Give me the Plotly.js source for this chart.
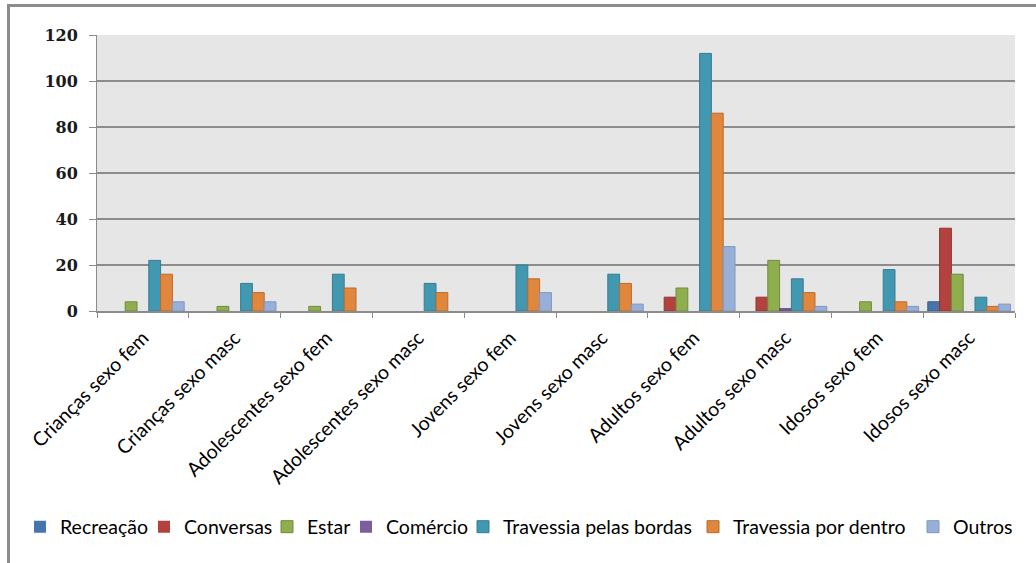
<!DOCTYPE html>
<html>
<head>
<meta charset="utf-8">
<script src="https://cdn.plot.ly/plotly-3.0.1.min.js"></script>
<style>
  html, body { margin: 0; padding: 0; background: #ffffff; }
  #wrap { position: relative; width: 1036px; height: 563px; overflow: hidden; }
  #chart { position: absolute; left: 0; top: 0; width: 1036px; height: 563px; }
  #frame { position: absolute; left: 7px; top: 4px; right: -10px; bottom: -10px;
           border-top: 3px solid #8c8c8c; border-left: 3px solid #8c8c8c; pointer-events: none; }
</style>
</head>
<body>
<div id="wrap">
  <div id="chart"></div>
  <div id="frame"></div>
</div>
<script>
const categories = ['Crianças sexo fem', 'Crianças sexo masc', 'Adolescentes sexo fem', 'Adolescentes sexo masc',
                    'Jovens sexo fem', 'Jovens sexo masc', 'Adultos sexo fem', 'Adultos sexo masc',
                    'Idosos sexo fem', 'Idosos sexo masc'];
const seriesNames = ['Recreação', 'Conversas', 'Estar', 'Comércio', 'Travessia pelas bordas', 'Travessia por dentro', 'Outros'];
const recreacao = [0, 0, 0, 0, 0, 0, 0, 0, 0, 4];
const conversas = [0, 0, 0, 0, 0, 0, 6, 6, 0, 36];
const estar     = [4, 2, 2, 0, 0, 0, 10, 22, 4, 16];
const comercio  = [0, 0, 0, 0, 0, 0, 0, 1, 0, 0];
const bordas    = [22, 12, 16, 12, 20, 16, 112, 14, 18, 6];
const dentro    = [16, 8, 10, 8, 14, 12, 86, 8, 4, 2];
const outros    = [4, 4, 0, 0, 8, 3, 28, 2, 2, 3];
const yTicks    = [0, 20, 40, 60, 80, 100, 120];

const seriesValues = [recreacao, conversas, estar, comercio, bordas, dentro, outros];
const fills = ['#4674AD', '#B3423F', '#8FAF4F', '#7B5E9E', '#4298B1', '#E0873D', '#98B0D8'];
const lines = ['#385D8A', '#8C3836', '#71893F', '#5C4776', '#357D91', '#B66D31', '#7E97C2'];
// legend entries placed individually (pixel position of each entry's text start)
const legendTextStart = [57, 181, 304, 383, 500, 730, 950];

const W = 1036, H = 563;
const margin = { l: 97, r: 21, t: 35, b: 252 };
const plotW = W - margin.l - margin.r;
const plotH = H - margin.t - margin.b;
const legendCenterY = 527;

const legendFont = { family: 'Lato, sans-serif', size: 19.5, color: '#000000' };

const traces = seriesNames.map((name, i) => ({
  type: 'bar',
  name: name,
  x: categories,
  y: seriesValues[i],
  legend: i === 0 ? 'legend' : 'legend' + (i + 1),
  marker: {
    color: fills[i],
    line: { color: lines[i], width: seriesValues[i].map(v => (v ? 1 : 0)) }
  },
  hoverinfo: 'x+y+name'
}));

const layout = {
  width: W,
  height: H,
  margin: { l: margin.l, r: margin.r, t: margin.t, b: margin.b, pad: 0 },
  paper_bgcolor: 'rgba(0,0,0,0)',
  plot_bgcolor: '#E6E6E6',
  barmode: 'group',
  bargap: 0.1,
  bargroupgap: 0,
  showlegend: true,
  xaxis: {
    type: 'category',
    tickangle: -45,
    tickson: 'boundaries',
    ticks: 'outside',
    ticklen: 5,
    tickcolor: '#8c8c8c',
    tickwidth: 1,
    showline: true,
    linecolor: '#8c8c8c',
    linewidth: 1.5,
    showgrid: false,
    ticklabelstandoff: 6,
    tickfont: { family: 'Lato, sans-serif', size: 19.5, color: '#000000' },
    fixedrange: true
  },
  yaxis: {
    range: [0, 120],
    tickvals: yTicks,
    ticktext: yTicks.map(String),
    ticks: 'outside',
    ticklen: 7,
    tickcolor: '#8c8c8c',
    tickwidth: 1,
    showline: true,
    linecolor: '#8c8c8c',
    linewidth: 1,
    showgrid: true,
    gridcolor: '#8c8c8c',
    gridwidth: 1.5,
    zeroline: false,
    ticklabelstandoff: 8,
    tickfont: { family: '"DejaVu Serif", serif', size: 16, color: '#1a1a1a', weight: 'bold' },
    fixedrange: true
  }
};

legendTextStart.forEach((tx, i) => {
  const key = i === 0 ? 'legend' : 'legend' + (i + 1);
  layout[key] = {
    orientation: 'h',
    x: (tx - 37 - margin.l) / plotW,
    xanchor: 'left',
    y: (H - margin.b - legendCenterY) / plotH,
    yanchor: 'middle',
    font: legendFont,
    bgcolor: 'rgba(0,0,0,0)',
    itemclick: false,
    itemdoubleclick: false
  };
});

Plotly.newPlot('chart', traces, layout, { displayModeBar: false });
</script>
</body>
</html>
